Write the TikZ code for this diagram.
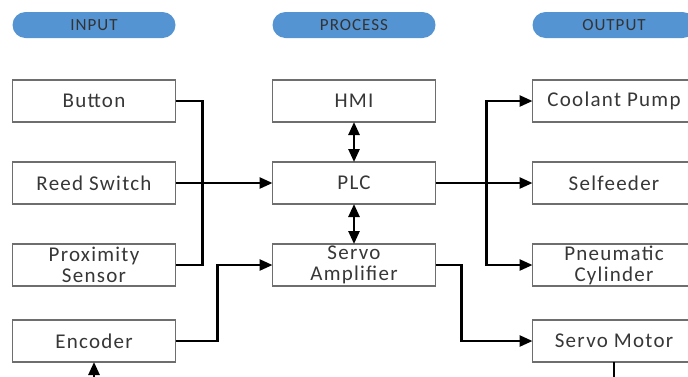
\documentclass[tikz,border=0pt]{standalone}
\usepackage{fontspec}
\setmainfont{Carlito}[LetterSpace=6]
\usepackage{xcolor}
\usetikzlibrary{arrows.meta, positioning}
\definecolor{pillblue}{RGB}{84,148,210}
\definecolor{boxtext}{RGB}{55,55,55}
\definecolor{boxline}{RGB}{110,110,110}

\begin{document}
\begin{tikzpicture}[
    x=0.5pt, y=-0.5pt,
    font=\fontsize{10.5}{10.5}\selectfont,
    node distance=20pt and 48.5pt,
    >={Triangle[length=6.5pt,width=5.5pt]},
    box/.style={
        draw=boxline,
        line width=0.8pt,
        fill=white,
        text=boxtext,
        align=center,
        inner sep=0pt,
        outer sep=0pt,
        minimum width=81.5pt,
        minimum height=21pt
    },
    header/.style={
        fill=pillblue,
        text=black!80,
        rounded corners=6.5pt,
        minimum width=81.5pt,
        minimum height=13pt,
        inner sep=0pt,
        outer sep=0pt,
        font=\fontsize{8.5}{8.5}\selectfont
    },
    link/.style={
        line width=1.3pt
    },
    line/.style={
        link,
        ->
    },
    dline/.style={
        link,
        <->
    }
]
\useasboundingbox (0,0) rectangle (688,376);

% Column 1: inputs
\node[box] (button) at (94,101) {Button};
\node[box, below=of button] (reed) {Reed Switch};
\node[box, below=of reed] (prox) {Proximity\\Sensor};
\node[box, below=17pt of prox] (encoder) {Encoder};

% Column 2: process
\node[box, right=of button] (hmi) {HMI};
\node[box, right=of reed] (plc) {PLC};
\node[box, right=of prox] (amp) {Servo\\Amplifier};

% Column 3: outputs
\node[box, right=of hmi] (coolant) {Coolant Pump};
\node[box, right=of plc] (feeder) {Selfeeder};
\node[box, right=of amp] (pneu) {Pneumatic\\Cylinder};
\node[box, below=17pt of pneu] (motor) {Servo Motor};

% Headers
\node[header, above=21pt of button] (input) {INPUT};
\node[header, above=21pt of hmi] (process) {PROCESS};
\node[header, above=21pt of coolant] (output) {OUTPUT};

% Bends
\coordinate (inbus) at ([xshift=13.5pt]button.east);
\coordinate (outbus) at ([xshift=25.5pt]plc.east);
\coordinate (encbend) at ([xshift=21pt]encoder.east);
\coordinate (ampbend) at ([xshift=13pt]amp.east);
\coordinate (feedback) at ([yshift=-10pt]motor.south);

% Arrows
\draw[link] (button.east) -- (inbus) |- (prox.east);
\draw[line] (reed) -- (plc);
\draw[dline] (hmi) -- (plc);
\draw[dline] (plc) -- (amp);

\draw[line] (plc) -- (feeder);
\draw[line] (outbus) |- (coolant);
\draw[line] (outbus) |- (pneu);

\draw[line] (encoder.east) -- (encbend) |- (amp);
\draw[line] (amp.east) -- (ampbend) |- (motor);
\draw[line] (motor.south) -- (feedback) -| (encoder.south);

\end{tikzpicture}
\end{document}
